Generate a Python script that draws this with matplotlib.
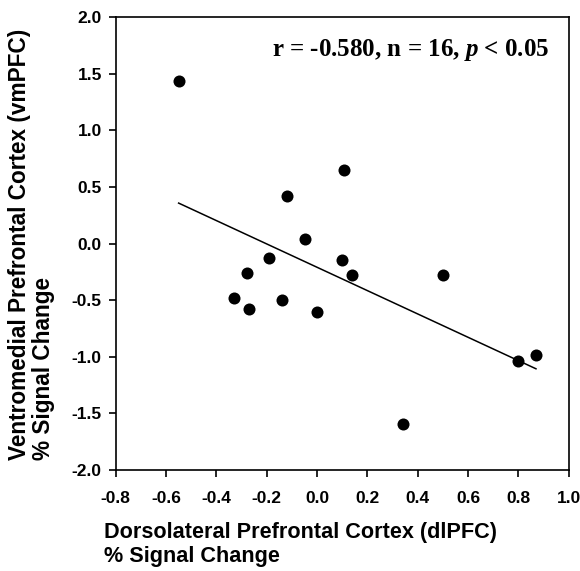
import numpy as np
import matplotlib
matplotlib.use("Agg")
import matplotlib.pyplot as plt

plt.rcParams['font.family'] = ['Liberation Sans', 'DejaVu Sans']
plt.rcParams['mathtext.fontset'] = 'custom'
plt.rcParams['mathtext.it'] = 'Liberation Serif:italic:bold'
plt.rcParams['mathtext.rm'] = 'Liberation Serif:bold'

# % signal change
dlpfc = [-0.550, -0.118, -0.049, 0.108, -0.191, 0.100, 0.140, -0.280,
         -0.330, -0.269, -0.140, 0.000, 0.499, 0.800, 0.870, 0.341]
vmpfc = [1.440, 0.419, 0.039, 0.651, -0.129, -0.141, -0.277, -0.259,
         -0.477, -0.580, -0.500, -0.601, -0.277, -1.036, -0.981, -1.590]

xticks = [-0.8, -0.6, -0.4, -0.2, 0.0, 0.2, 0.4, 0.6, 0.8, 1.0]
yticks = [-2.0, -1.5, -1.0, -0.5, 0.0, 0.5, 1.0, 1.5, 2.0]

x = np.array(dlpfc)
y = np.array(vmpfc)

fig = plt.figure(figsize=(5.8, 5.71), dpi=100)
ax = fig.add_axes([0.1995, 0.1769, 0.781, 0.7928])

ax.scatter(x, y, s=75, color='black', zorder=3, linewidths=0)

# regression line over the data range
slope, icpt = np.polyfit(x, y, 1)
xl = np.array([x.min(), x.max()])
ax.plot(xl, slope * xl + icpt, color='black', linewidth=1.1)

ax.set_xlim(-0.8, 1.0)
ax.set_ylim(-2.0, 2.0)
ax.set_xticks(xticks)
ax.set_yticks(yticks)
ax.set_xticklabels([f"{v:.1f}" for v in xticks])
ax.set_yticklabels([f"{v:.1f}" for v in yticks])
ax.tick_params(direction='out', length=5, width=1.2, labelsize=12.5)
ax.tick_params(axis='x', pad=10)
ax.tick_params(axis='y', pad=5)
for lab in ax.get_xticklabels() + ax.get_yticklabels():
    lab.set_fontweight('bold')
for sp in ax.spines.values():
    sp.set_linewidth(1.2)

fig.text(549 / 580, 1 - 37 / 571, r"r = -0.580, n = 16, $p$ < 0.05",
         ha='right', va='top', fontsize=18, fontweight='bold',
         family=['Liberation Serif'])

fig.text(104 / 580, 1 - 522 / 571,
         "Dorsolateral Prefrontal Cortex (dlPFC)\n% Signal Change",
         ha='left', va='top', fontsize=15.6, fontweight='bold',
         linespacing=1.2)
fig.text(8 / 580, 1 - 460 / 571,
         "Ventromedial Prefrontal Cortex (vmPFC)\n% Signal Change",
         ha='left', va='top', rotation=90, rotation_mode='anchor',
         fontsize=16.3, fontweight='bold', linespacing=1.05)

fig.savefig("out.png", dpi=100)
